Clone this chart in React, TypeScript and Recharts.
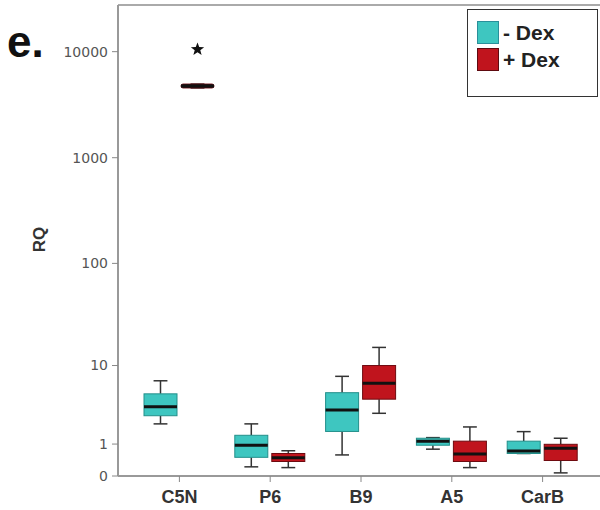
import React from "react";
import { ComposedChart, Bar, XAxis, YAxis, ReferenceLine } from "recharts";

// RQ box plots, -Dex vs +Dex, y axis on a log(x+1) scale
const categories = ["C5N", "P6", "B9", "A5", "CarB"];
const yTicks = [0, 1, 10, 100, 1000, 10000];

// - Dex
const minusMin = [2.1, 0.22, 0.58, 0.79, 0.63];
const minusQ1 = [2.7, 0.5, 1.63, 0.95, 0.63];
const minusMed = [3.5, 0.95, 3.2, 1.13, 0.72];
const minusQ3 = [4.95, 1.42, 5.1, 1.27, 1.13];
const minusMax = [6.9, 2.1, 7.7, 1.3, 1.62];
const minusOutliers: number[][] = [[], [], [], [], []];

// + Dex
const plusMin = [4550, 0.2, 2.9, 0.2, 0.07];
const plusQ1 = [4550, 0.37, 4.3, 0.37, 0.4];
const plusMed = [4750, 0.49, 6.5, 0.61, 0.83];
const plusQ3 = [4950, 0.63, 10, 1.13, 0.99];
const plusMax = [4950, 0.73, 15.3, 1.9, 1.27];
const plusOutliers: number[][] = [[10500], [], [], [], []];

const T = (v: number) => Math.log10(v + 1);
const Y_MAX = 4.44;

type Stats = { min: number; q1: number; med: number; q3: number; max: number; out: number[] };

const data = categories.map((name, i) => ({
  name,
  minus: { min: minusMin[i], q1: minusQ1[i], med: minusMed[i], q3: minusQ3[i], max: minusMax[i], out: minusOutliers[i] },
  plus: { min: plusMin[i], q1: plusQ1[i], med: plusMed[i], q3: plusQ3[i], max: plusMax[i], out: plusOutliers[i] },
}));

const lowT = (s: Stats) => T(Math.min(s.min, ...s.out));
const highT = (s: Stats) => T(Math.max(s.max, ...s.out));

const TEAL = "#3ec6c0";
const RED = "#c0141d";

function star(cx: number, cy: number, r: number) {
  const pts: string[] = [];
  for (let k = 0; k < 10; k++) {
    const rr = k % 2 === 0 ? r : r * 0.42;
    const a = -Math.PI / 2 + (k * Math.PI) / 5;
    pts.push(`${cx + rr * Math.cos(a)},${cy + rr * Math.sin(a)}`);
  }
  return pts.join(" ");
}

const boxShape = (key: "minus" | "plus", fill: string, edge: string) => (props: any) => {
  const { x, width, payload } = props;
  const s: Stats = payload[key];
  let top = props.y;
  let bottom = props.y + props.height;
  if (bottom < top) [top, bottom] = [bottom, top];
  const hi = highT(s);
  const lo = lowT(s);
  const py = (v: number) => (hi === lo ? top : top + ((hi - T(v)) / (hi - lo)) * (bottom - top));
  const cx = x + width / 2;
  const cap = width * 0.21;
  const yMax = py(s.max), yQ3 = py(s.q3), yMed = py(s.med), yQ1 = py(s.q1), yMin = py(s.min);
  // collapsed boxes are drawn as a solid black bar
  const flat = yQ1 - yQ3 < 6;
  return (
    <g>
      <line x1={cx} x2={cx} y1={yMax} y2={yQ3} stroke="#333" strokeWidth={1.5} />
      <line x1={cx} x2={cx} y1={yQ1} y2={yMin} stroke="#333" strokeWidth={1.5} />
      <line x1={cx - cap} x2={cx + cap} y1={yMax} y2={yMax} stroke="#333" strokeWidth={1.5} />
      <line x1={cx - cap} x2={cx + cap} y1={yMin} y2={yMin} stroke="#333" strokeWidth={1.5} />
      <rect
        x={x}
        y={yQ3}
        width={width}
        height={Math.max(yQ1 - yQ3, 1)}
        fill={flat && key === "plus" && s.q3 > 100 ? "#111" : fill}
        stroke={edge}
        strokeWidth={1}
        rx={flat ? 2 : 0}
      />
      <line x1={x} x2={x + width} y1={yMed} y2={yMed} stroke="#111" strokeWidth={3} />
      {s.out.map((o, j) => (
        <polygon key={j} points={star(cx, py(o), 7)} fill="#111" />
      ))}
    </g>
  );
};

const fmt = (t: number) => {
  const v = Math.round(Math.pow(10, t) - 1);
  return `${v}`;
};

export default function App() {
  return (
    <div style={{ position: "absolute", left: 0, top: 0, width: 600, height: 510, background: "#fff" }}>
      <div
        style={{
          position: "absolute", left: 7, top: 19, fontFamily: "Liberation Sans, Arial, sans-serif",
          fontWeight: "bold", fontSize: 44, color: "#111", lineHeight: "46px",
        }}
      >
        e.
      </div>
      <ComposedChart
        width={600}
        height={510}
        data={data}
        margin={{ top: 5, right: 0, left: 0, bottom: 4 }}
        barSize={33}
        barGap={4}
      >
        <ReferenceLine y={Y_MAX} stroke="#aaa" strokeWidth={2} ifOverflow="extendDomain" />
        <XAxis
          dataKey="name"
          height={30}
          padding={{ left: 16, right: 12 }}
          stroke="#999"
          strokeWidth={2}
          tickSize={6}
          tickMargin={8}
          tickLine={{ stroke: "#888", strokeWidth: 1 }}
          tick={{ fontSize: 18, fontWeight: "bold", fill: "#333", fontFamily: "Liberation Sans, Arial, sans-serif" }}
        />
        <YAxis
          type="number"
          domain={[0, Y_MAX]}
          ticks={yTicks.map(T)}
          tickFormatter={fmt}
          width={118}
          stroke="#999"
          strokeWidth={2}
          tickSize={6}
          tickMargin={4}
          tickLine={{ stroke: "#888", strokeWidth: 1 }}
          tick={{ fontSize: 14, fill: "#555", fontFamily: "DejaVu Sans, sans-serif" }}
          label={{
            content: ({ viewBox }: any) => (
              <text
                x={45}
                y={viewBox.y + viewBox.height / 2 - 1}
                transform={`rotate(-90 45 ${viewBox.y + viewBox.height / 2 - 1})`}
                textAnchor="middle"
                fontSize={17}
                fontWeight="bold"
                fill="#333"
                fontFamily="Liberation Sans, Arial, sans-serif"
              >
                RQ
              </text>
            ),
          }}
        />
        <Bar
          name="- Dex"
          dataKey={(d: any) => [lowT(d.minus), highT(d.minus)]}
          shape={boxShape("minus", TEAL, "#238f8a")}
          isAnimationActive={false}
        />
        <Bar
          name="+ Dex"
          dataKey={(d: any) => [lowT(d.plus), highT(d.plus)]}
          shape={boxShape("plus", RED, "#6e0a10")}
          isAnimationActive={false}
        />
      </ComposedChart>
      <div
        style={{
          position: "absolute", left: 467, top: 9, width: 129, height: 86, border: "1.5px solid #333",
          background: "#fff", fontFamily: "Liberation Sans, Arial, sans-serif", fontWeight: "bold",
          fontSize: 21, color: "#222",
        }}
      >
        {[
          { label: "- Dex", color: TEAL, edge: "#2a8f9a" },
          { label: "+ Dex", color: RED, edge: "#5e0a10" },
        ].map((it, i) => (
          <div key={it.label} style={{ position: "absolute", left: 9, top: 11 + i * 27, display: "flex", alignItems: "center" }}>
            <span style={{ width: 20, height: 21, background: it.color, border: `1.5px solid ${it.edge}`, display: "inline-block" }} />
            <span style={{ marginLeft: 4, lineHeight: "22px" }}>{it.label}</span>
          </div>
        ))}
      </div>
    </div>
  );
}
